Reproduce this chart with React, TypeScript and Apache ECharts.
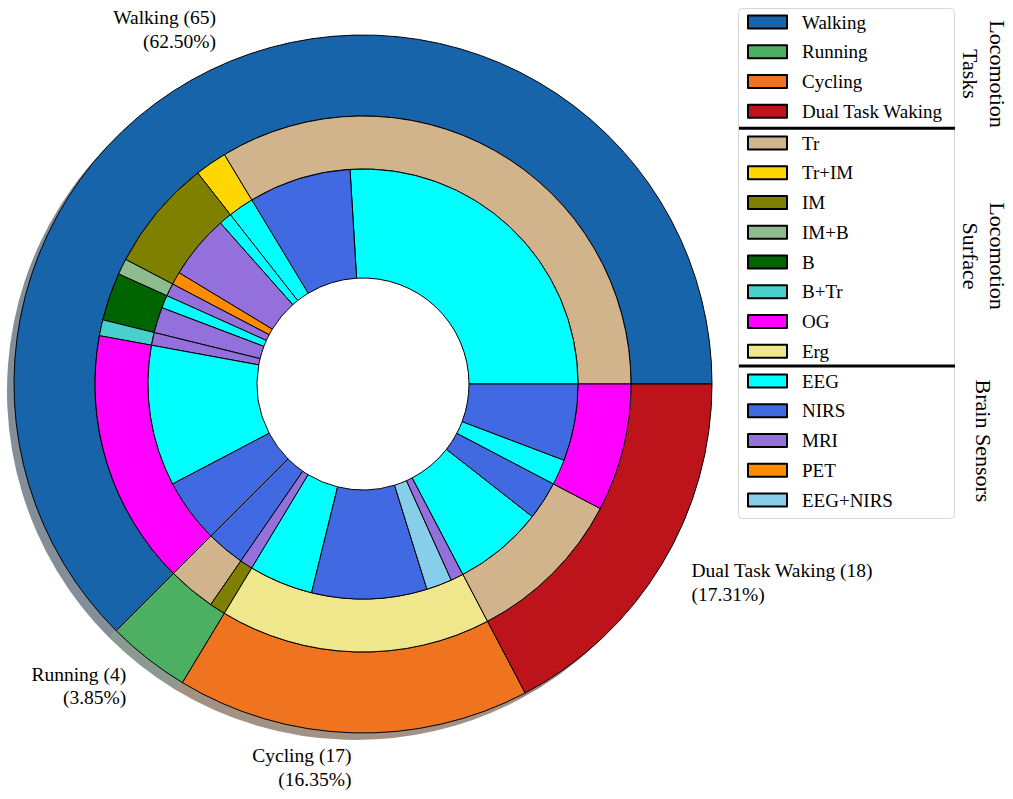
import React, { useEffect, useRef } from "react";
import * as echarts from "echarts";

// ---- data ----
const taskNames = ["Walking", "Running", "Cycling", "Dual Task Waking"];
const taskValues = [65, 4, 17, 18];
const taskColors = ["#1764ab", "#4caf62", "#f07320", "#bc141a"];

const surfaceNames = ["Tr", "Tr+IM", "IM", "IM+B", "B", "B+Tr", "OG", "Erg"];
const surfaceColors = ["#d2b48c", "#ffd700", "#808000", "#8fbc8f", "#006400", "#48d1cc", "#ff00ff", "#f0e68c"];
const surfaceSlices = ["Tr", "Tr+IM", "IM", "IM+B", "B", "B+Tr", "OG", "Tr", "IM", "Erg", "Tr", "OG"];
const surfaceValues = [35, 2, 7, 1, 3, 1, 16, 3, 1, 17, 10, 8];

const sensorNames = ["EEG", "NIRS", "MRI", "PET", "EEG+NIRS"];
const sensorColors = ["#00ffff", "#4169e1", "#9370db", "#ff8c00", "#87ceeb"];
const sensorSlices = ["EEG", "NIRS", "EEG", "EEG", "MRI", "PET", "MRI", "EEG", "MRI", "MRI", "EEG", "NIRS", "NIRS", "MRI", "EEG", "NIRS", "EEG+NIRS", "MRI", "EEG", "NIRS", "EEG", "NIRS"];
const sensorValues = [27, 8, 2, 1, 5, 1, 1, 1, 2, 1, 11, 5, 3, 1, 5, 9, 2, 1, 7, 3, 2, 6];

const groupTitles = ["Locomotion\nTasks", "Locomotion\nSurface", "Brain Sensors"];

const FONT = "'Liberation Serif', 'DejaVu Serif', serif";
const CX = 363;
const CY = 384;
const R_OUT = 349;

function hexToRgb(h: string) {
  const n = parseInt(h.slice(1), 16);
  return [(n >> 16) & 255, (n >> 8) & 255, n & 255];
}

export default function App() {
  const ref = useRef<HTMLDivElement>(null);
  useEffect(() => {
    if (!ref.current) return;
    const chart = echarts.init(ref.current, null, { renderer: "svg" });
    const total = taskValues.reduce((a, b) => a + b, 0);
    const mids: number[] = [];
    let acc = 0;
    taskValues.forEach((v) => {
      mids.push(((acc + v / 2) / total) * 2 * Math.PI);
      acc += v;
    });

    const border = { borderColor: "#000", borderWidth: 1 };
    const common = {
      type: "pie" as const,
      center: [CX, CY],
      startAngle: 0,
      clockwise: false,
      silent: true,
      avoidLabelOverlap: false,
      label: { show: false },
      labelLine: { show: false },
      emphasis: { disabled: true },
    };

    const option: any = {
      animation: false,
      backgroundColor: "#fff",
      legend: [
        { data: taskNames, top: 7 },
        { data: surfaceNames, top: 128 },
        { data: sensorNames, top: 366 },
      ].map((l) => ({
        ...l,
        orient: "vertical",
        left: 742,
        padding: 5,
        itemWidth: 39,
        itemHeight: 13,
        itemGap: 9.75,
        icon: "rect",
        selectedMode: false,
        textStyle: { fontFamily: FONT, fontSize: 19, lineHeight: 20, color: "#000", padding: [0, 0, 0, 10] },
      })),
      series: [
        {
          ...common,
          name: "shadow",
          center: [CX - 7, CY + 7],
          radius: [268, R_OUT],
          z: 1,
          data: taskNames.map((n, i) => {
            const [r, g, b] = hexToRgb(taskColors[i]);
            return {
              name: "shadow-" + n,
              value: taskValues[i],
              itemStyle: { color: `rgba(${Math.round(r * 0.3)},${Math.round(g * 0.3)},${Math.round(b * 0.3)},0.5)` },
            };
          }),
        },
        {
          ...common,
          name: "Tasks",
          radius: [268, R_OUT],
          z: 2,
          data: taskNames.map((n, i) => ({ name: n, value: taskValues[i], itemStyle: { color: taskColors[i], ...border } })),
          label: {
            show: true,
            position: "outside",
            fontFamily: FONT,
            fontSize: 19.5,
            lineHeight: 23.5,
            color: "#000",
            formatter: (p: any) => `${p.name} (${p.value})\n(${((p.value / total) * 100).toFixed(2)}%)`,
          },
          labelLayout: (p: any) => {
            const a = mids[p.dataIndex];
            const r = R_OUT * 1.1;
            return {
              x: CX + r * Math.cos(a),
              y: CY - r * Math.sin(a),
              align: Math.cos(a) < 0 ? "right" : "left",
              verticalAlign: "middle",
            };
          },
        },
        {
          ...common,
          name: "Surface",
          radius: [215, 268],
          z: 3,
          data: surfaceSlices.map((n, i) => ({
            name: n,
            value: surfaceValues[i],
            itemStyle: { color: surfaceColors[surfaceNames.indexOf(n)], ...border },
          })),
        },
        {
          ...common,
          name: "Sensors",
          radius: [106, 215],
          z: 4,
          data: sensorSlices.map((n, i) => ({
            name: n,
            value: sensorValues[i],
            itemStyle: { color: sensorColors[sensorNames.indexOf(n)], ...border },
          })),
        },
      ],
      graphic: [
        {
          type: "rect",
          z: 0,
          shape: { x: 738.5, y: 8.5, width: 216, height: 510, r: 4 },
          style: { fill: "#fff", stroke: "#d6d6d6", lineWidth: 1 },
        },
        {
          type: "line",
          z: 1,
          shape: { x1: 739, y1: 128.3, x2: 955, y2: 128.3 },
          style: { stroke: "#000", lineWidth: 3 },
        },
        {
          type: "line",
          z: 1,
          shape: { x1: 739, y1: 366, x2: 955, y2: 366 },
          style: { stroke: "#000", lineWidth: 3 },
        },
        ...groupTitles.map((t, i) => ({
          type: "text",
          z: 1,
          x: 983.5,
          y: [74, 256, 441][i],
          rotation: -Math.PI / 2,
          style: {
            text: t,
            fontFamily: FONT,
            fontSize: 22,
            lineHeight: 27,
            fill: "#000",
            align: "center",
            verticalAlign: "middle",
          },
        })),
      ],
    };
    chart.setOption(option);
    return () => chart.dispose();
  }, []);
  return <div ref={ref} style={{ position: "fixed", left: 0, top: 0, width: 1013, height: 799 }} />;
}
